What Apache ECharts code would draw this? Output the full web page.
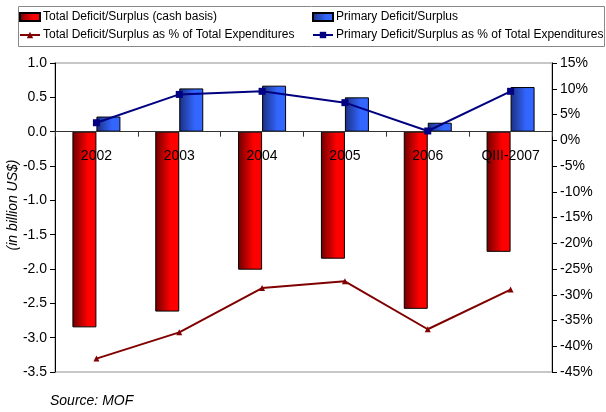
<!DOCTYPE html>
<html>
<head>
<meta charset="utf-8">
<script src="https://cdn.jsdelivr.net/npm/echarts@6/dist/echarts.min.js"></script>
<style>
html,body{margin:0;padding:0;background:#fff;}
#c{width:606px;height:412px;}
</style>
</head>
<body>
<div id="c"></div>
<script>
var categories = ['2002', '2003', '2004', '2005', '2006', 'QIII-2007'];
var totalDeficit = [-2.85, -2.62, -2.01, -1.85, -2.58, -1.75];
var primaryDeficit = [0.22, 0.63, 0.67, 0.50, 0.13, 0.65];
var totalPct = [-42.4, -37.3, -28.7, -27.4, -36.7, -29.0];
var primaryPct = [3.4, 8.9, 9.5, 7.3, 1.8, 9.5];

var FONT = "'Liberation Sans', Arial, sans-serif";
var chart = echarts.init(document.getElementById('c'), null, {renderer: 'canvas'});

function grad(c0, c1) {
  return new echarts.graphic.LinearGradient(0, 0, 1, 0, [
    {offset: 0, color: c0}, {offset: 0.65, color: c1}, {offset: 1, color: c1}
  ]);
}

var legendText = {fontSize: 12, color: '#000', fontFamily: FONT, padding: [0, 0, 0, -2]};

var option = {
  backgroundColor: '#fff',
  animation: false,
  textStyle: {fontFamily: FONT},
  legend: [
    {
      left: 19, top: 11, padding: 0, orient: 'vertical', itemGap: 6, itemWidth: 20, itemHeight: 8,
      data: [
        {name: 'Total Deficit/Surplus (cash basis)', icon: 'rect'},
        'Total Deficit/Surplus as % of Total Expenditures'
      ],
      textStyle: legendText
    },
    {
      left: 312, top: 11, padding: 0, orient: 'vertical', itemGap: 6, itemWidth: 20, itemHeight: 8,
      data: [
        {name: 'Primary Deficit/Surplus', icon: 'rect'},
        'Primary Deficit/Surplus as % of Total Expenditures'
      ],
      textStyle: legendText
    }
  ],
  grid: {
    left: 55, right: 54, top: 63, bottom: 40,
    show: true, borderColor: '#b5b5b5', borderWidth: 1.5, backgroundColor: '#fff'
  },
  xAxis: {
    type: 'category',
    data: categories,
    z: 10,
    axisLine: {onZero: true, onZeroAxisIndex: 0, lineStyle: {color: '#333', width: 1}},
    axisTick: {show: true, length: 5, lineStyle: {color: '#333'}},
    axisLabel: {fontSize: 14, color: '#000', margin: -223, fontFamily: FONT},
    splitLine: {show: false}
  },
  yAxis: [
    {
      type: 'value', min: -3.5, max: 1.0, interval: 0.5,
      axisLine: {show: true, lineStyle: {color: '#000'}},
      axisTick: {show: true, length: 5, lineStyle: {color: '#000'}},
      axisLabel: {fontSize: 14, color: '#000', margin: 8, fontFamily: FONT,
        formatter: function (v) { return v.toFixed(1); }},
      splitLine: {show: false}
    },
    {
      type: 'value', min: -45, max: 15, interval: 5,
      axisLine: {show: true, lineStyle: {color: '#000'}},
      axisTick: {show: true, length: 5, lineStyle: {color: '#000'}},
      axisLabel: {fontSize: 14, color: '#000', margin: 8, fontFamily: FONT,
        formatter: '{value}%'},
      splitLine: {show: false}
    }
  ],
  series: [
    {
      name: 'Total Deficit/Surplus (cash basis)',
      type: 'bar', yAxisIndex: 0, barWidth: 24, barGap: '0%',
      data: totalDeficit,
      itemStyle: {color: grad('#6e0000', '#ff0000'), borderColor: '#000', borderWidth: 1}
    },
    {
      name: 'Primary Deficit/Surplus',
      type: 'bar', yAxisIndex: 0, barWidth: 24, barGap: '0%',
      data: primaryDeficit,
      itemStyle: {color: grad('#1a2f80', '#3366ff'), borderColor: '#000', borderWidth: 1}
    },
    {
      name: 'Total Deficit/Surplus as % of Total Expenditures',
      type: 'line', yAxisIndex: 1, data: totalPct, z: 12,
      symbol: 'triangle', symbolSize: 6,
      lineStyle: {color: '#800000', width: 2},
      itemStyle: {color: '#800000'}
    },
    {
      name: 'Primary Deficit/Surplus as % of Total Expenditures',
      type: 'line', yAxisIndex: 1, data: primaryPct, z: 12,
      symbol: 'rect', symbolSize: 7,
      lineStyle: {color: '#000080', width: 2},
      itemStyle: {color: '#000080'}
    }
  ],
  graphic: [
    {type: 'rect', left: 16, top: 4, shape: {width: 586, height: 40},
      style: {fill: null, stroke: '#888', lineWidth: 1}, z: -1},
    {type: 'text', x: 13, y: 205, rotation: Math.PI / 2,
      style: {text: '(in billion US$)', font: 'italic 14px ' + FONT, fill: '#000',
        textAlign: 'center', textVerticalAlign: 'middle'}},
    {type: 'text', left: 50, top: 394,
      style: {text: 'Source: MOF', font: 'italic 14px ' + FONT, fill: '#000'}}
  ]
};
chart.setOption(option);
</script>
</body>
</html>
